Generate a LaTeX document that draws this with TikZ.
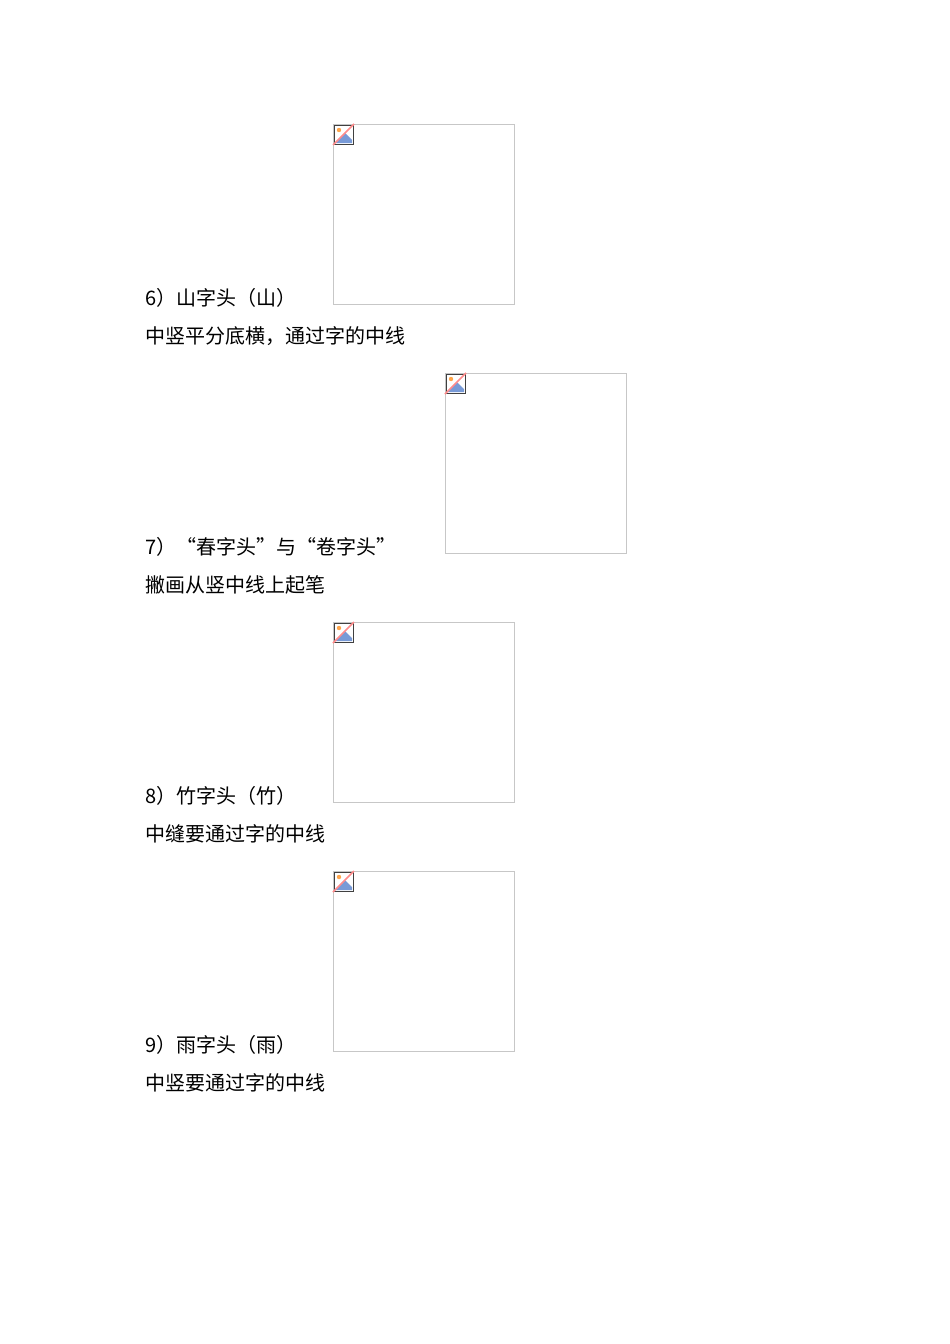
\documentclass[tikz,border=0pt]{standalone}
\usepackage{fontspec}
\setmainfont{Noto Sans CJK SC}
\begin{document}
\begin{tikzpicture}[x=1pt,y=-1pt,
  txt/.style={anchor=base west,inner sep=0pt,font=\fontsize{20}{20}\selectfont},
  imgbox/.style={draw=black!22,line width=0.8pt,minimum width=181pt,minimum height=180pt,anchor=north west,inner sep=0pt}]
\useasboundingbox (0,0) rectangle (950,1344);
\newcommand\brokenimg[2]{%
  \begin{scope}[shift={(#1,#2)}]
   \fill[white] (1,1) rectangle (20,20);
   \fill[orange!70] (6,6) circle (2.2);
   \fill[cyan!45!blue!55] (2,19) -- (12,9) -- (19,16) -- (19,19) -- cycle;
   \draw[black!75,line width=1pt] (1,1) rectangle (20,20);
   \draw[red!45,line width=1.6pt] (0,21) -- (21,0);
  \end{scope}}
\node[imgbox] (b1) at (333,124) {};
\node[imgbox] (b2) at (445,373) {};
\node[imgbox] (b3) at (333,622) {};
\node[imgbox] (b4) at (333,871) {};
\brokenimg{333}{124}
\brokenimg{445}{373}
\brokenimg{333}{622}
\brokenimg{333}{871}
\node[txt] (t6) at (145,305) {6）山字头（山）};
\node[txt] (s6) at (145,343) {中竖平分底横，通过字的中线};
\node[txt] (t7) at (145,554) {7）“春字头”与“卷字头”};
\node[txt] (s7) at (145,592) {撇画从竖中线上起笔};
\node[txt] (t8) at (145,803) {8）竹字头（竹）};
\node[txt] (s8) at (145,841) {中缝要通过字的中线};
\node[txt] (t9) at (145,1052) {9）雨字头（雨）};
\node[txt] (s9) at (145,1090) {中竖要通过字的中线};
\end{tikzpicture}
\end{document}
